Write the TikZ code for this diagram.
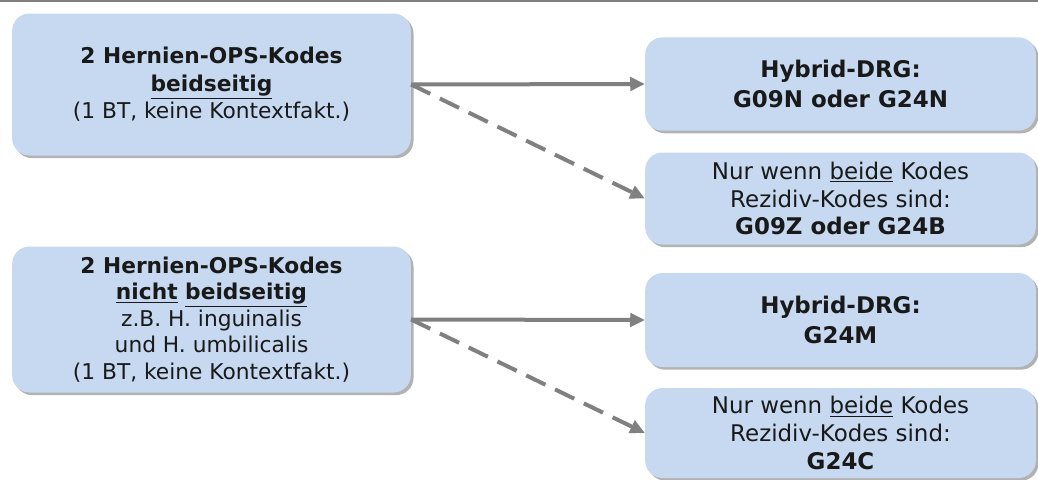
\documentclass[tikz,border=0pt]{standalone}
\usepackage{fontspec}
\setmainfont{DejaVu Sans}
\usetikzlibrary{arrows.meta,shadows}
\definecolor{boxblue}{RGB}{198,217,240}
\definecolor{arrowgray}{RGB}{128,128,128}
\begin{document}
\begin{tikzpicture}[x=0.75pt,y=-0.75pt,
	case/.style={rounded corners=13pt, fill=boxblue, align=center, inner sep=0pt, minimum width=299pt, text=black!90,
		font=\fontsize{16.3}{19.9}\selectfont, drop shadow={shadow xshift=2pt, shadow yshift=-2pt, fill=black, opacity=0.3}},
	result/.style={case, minimum width=293pt, font=\fontsize{17.2}{20.9}\selectfont},
	link/.style={draw=arrowgray, line width=3pt, -{Triangle[length=11pt,width=10pt]}},
	maybe/.style={link, dash pattern=on 16pt off 8pt}]
	\useasboundingbox (0,0) rectangle (1038,479);
	\draw[arrowgray, line width=1.5pt] (0,1) -- (1038,1);
	% left side
	\node[case, minimum height=106.5pt] at (211.5,84.5) (a1) {\textbf{2 Hernien-OPS-Kodes}\\[1pt] \textbf{\underline{beidseitig}}\\[0.5pt] (1 BT, keine Kontextfakt.)};
	\node[case, minimum height=109.5pt] at (211.5,319.5) (a2) {\textbf{2 Hernien-OPS-Kodes}\\ \textbf{\underline{nicht} \underline{beidseitig}}\\ z.B. H. inguinalis\\ und H. umbilicalis\\ (1 BT, keine Kontextfakt.)};
	% right side
	\node[result, minimum height=70pt] at (840.5,84) (b1) {\textbf{Hybrid-DRG:}\\[2pt] \textbf{G09N oder G24N}};
	\node[result, minimum height=69pt] at (840.5,198.5) (b2) {Nur wenn \underline{beide} Kodes\\ Rezidiv-Kodes sind:\\ \textbf{G09Z oder G24B}};
	\node[result, minimum height=70.5pt] at (840.5,320) (b3) {\textbf{Hybrid-DRG:}\\[2pt] \textbf{G24M}};
	\node[result, minimum height=67.5pt] at (840.5,433) (b4) {Nur wenn \underline{beide} Kodes\\ Rezidiv-Kodes sind:\\ \textbf{G24C}};
	\draw[link] (a1.east) -- (b1.west);
	\draw[maybe] (a1.east) -- (b2.west);
	\draw[link] (a2.east) -- (b3.west);
	\draw[maybe] (a2.east) -- (b4.west);
\end{tikzpicture}
\end{document}
